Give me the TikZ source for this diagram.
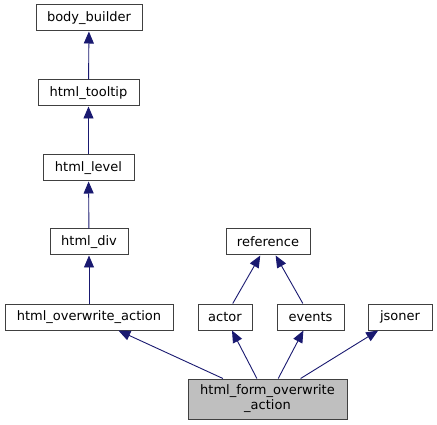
\documentclass[tikz,border=0pt]{standalone}
\usepackage{fontspec}
\setmainfont{DejaVu Sans}
\usetikzlibrary{arrows.meta}
\definecolor{edgeblue}{HTML}{191970}
\definecolor{boxgray}{HTML}{404040}
\definecolor{focusgray}{HTML}{BFBFBF}
\begin{document}
\begin{tikzpicture}[
  x=1pt, y=-1pt,
  classnode/.style={draw=boxgray, line width=1pt, fill=white, inner sep=0pt, minimum height=26pt, font=\fontsize{13}{15}\selectfont},
  focusnode/.style={classnode, fill=focusgray, minimum height=40pt, align=center},
  inherit/.style={draw=edgeblue, line width=0.9pt, -{Triangle[length=12pt,width=10pt]}},
]
  \useasboundingbox (0, 0) rectangle (437, 425);

  \node[classnode, minimum width=106pt] (bb) at (89, 18) {body\_builder};
  \node[classnode, minimum width=101pt] (tooltip) at (88.5, 93) {html\_tooltip};
  \node[classnode, minimum width=91pt] (level) at (88.5, 168) {html\_level};
  \node[classnode, minimum width=78pt] (div) at (89, 242) {html\_div};
  \node[classnode, minimum width=84pt] (ref) at (268, 242) {reference};

  \node[classnode, minimum width=168pt] (owaction) at (89, 317) {html\_overwrite\_action};
  \node[classnode, minimum width=54pt] (actor) at (225, 317) {actor};
  \node[classnode, minimum width=67pt] (events) at (310.5, 317) {events};
  \node[classnode, minimum width=64pt] (jsoner) at (400, 317) {jsoner};

  \node[focusnode, minimum width=159pt] (form) at (267.5, 399) {html\_form\_overwrite\\\_action};

  \draw[inherit] (tooltip) -- (bb);
  \draw[inherit] (level) -- (tooltip);
  \draw[inherit] (div) -- (level);
  \draw[inherit] (owaction) -- (div);
  \draw[inherit] (actor) -- (ref);
  \draw[inherit] (events) -- (ref);
  \draw[inherit] (form) -- (owaction);
  \draw[inherit] (form) -- (actor);
  \draw[inherit] (form) -- (events);
  \draw[inherit] (form) -- (jsoner);
\end{tikzpicture}
\end{document}
